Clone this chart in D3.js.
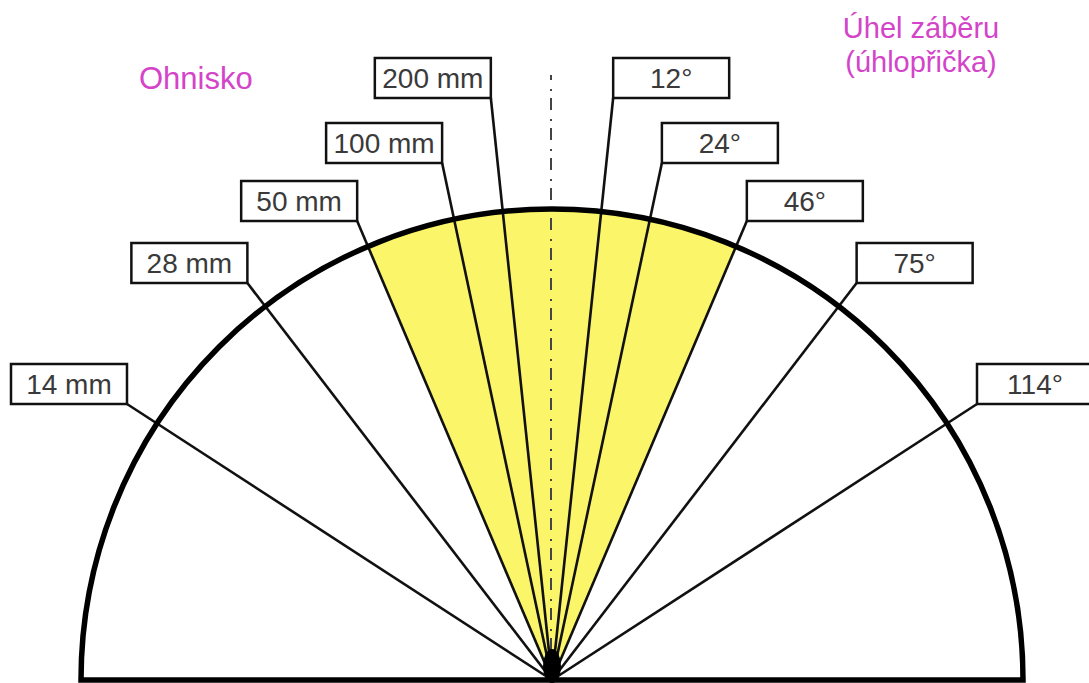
<!DOCTYPE html>
<html>
<head>
<meta charset="utf-8">
<script src="https://cdn.jsdelivr.net/npm/d3@7"></script>
<style>
  body { margin: 0; background: #fff; }
  svg { display: block; font-family: "Liberation Sans", Arial, sans-serif; }
</style>
</head>
<body>
<div id="chart"></div>
<script>
// data: focal lengths (left labels) and matching diagonal angle of view (right labels)
var focalLengths = ['14 mm', '28 mm', '50 mm', '100 mm', '200 mm'];
var viewAngles = [114, 75, 46, 24, 12];
var highlightAngle = 46; // yellow wedge
var leftTitle = 'Ohnisko';
var rightTitle = ['Úhel záběru', '(úhlopřička)'];

// layout
var width = 1089, height = 683;
var cx = 552, cy = 680, radius = 471;
var rowY = [404, 283, 221, 163, 98]; // bottom edge of the label boxes, per row
var boxW = 116, boxH = 40;

var svg = d3.select('#chart')
  .append('svg')
  .attr('width', width)
  .attr('height', height);

svg.append('rect').attr('width', width).attr('height', height).attr('fill', '#fff');

// degrees -> radians, 0 = straight up
var ang = d3.scaleLinear().domain([-180, 180]).range([-Math.PI, Math.PI]);

var g = svg.append('g').attr('transform', 'translate(' + cx + ',' + cy + ')');

// highlighted wedge
g.append('path')
  .attr('d', d3.arc()({
    innerRadius: 0, outerRadius: radius,
    startAngle: ang(-highlightAngle / 2), endAngle: ang(highlightAngle / 2)
  }))
  .attr('fill', '#fbf56a');

// dash-dot axis
g.append('line')
  .attr('x1', -1).attr('x2', -1)
  .attr('y1', 0).attr('y2', 75 - cy)
  .attr('stroke', '#444')
  .attr('stroke-width', 2)
  .attr('stroke-dasharray', '12 7 2 9');

// one entry per row: line on the left (-) and right (+) side
var rows = viewAngles.map(function(a, i) {
  var half = ang(a / 2);
  var dy = rowY[i] - cy;               // negative
  var dx = -dy * Math.tan(half);
  return { focal: focalLengths[i], angle: a, dx: dx, dy: dy };
});

function endPoints(side) {
  return rows.map(function(d) { return { d: d, x: side * d.dx, y: d.dy }; });
}

// radial lines
[-1, 1].forEach(function(side) {
  g.selectAll('.ray' + side)
    .data(endPoints(side))
    .enter()
    .append('line')
      .attr('x1', 0).attr('y1', 0)
      .attr('x2', function(p) { return p.x; })
      .attr('y2', function(p) { return p.y; })
      .attr('stroke', '#111')
      .attr('stroke-width', 2.6);
});

// semicircle outline with base line
g.append('path')
  .attr('d', d3.arc()({
    innerRadius: 0, outerRadius: radius,
    startAngle: ang(-90), endAngle: ang(90)
  }))
  .attr('fill', 'none')
  .attr('stroke', '#000')
  .attr('stroke-width', 5.5)
  .attr('stroke-linejoin', 'miter');

// blob where the rays meet
g.append('ellipse').attr('rx', 9).attr('ry', 17).attr('cy', -14).attr('fill', '#000');

// label boxes
[-1, 1].forEach(function(side) {
  var lbl = g.selectAll('.lbl' + side)
    .data(endPoints(side))
    .enter()
    .append('g')
      .attr('transform', function(p) {
        var x0 = side < 0 ? p.x - boxW : p.x;
        return 'translate(' + x0 + ',' + (p.y - boxH) + ')';
      });

  lbl.append('rect')
    .attr('width', boxW).attr('height', boxH)
    .attr('fill', '#fff')
    .attr('stroke', '#111')
    .attr('stroke-width', 2.5);

  lbl.append('text')
    .attr('x', boxW / 2)
    .attr('y', boxH - 10)
    .attr('text-anchor', 'middle')
    .attr('font-size', 28)
    .attr('fill', '#3a3a3a')
    .text(function(p) { return side < 0 ? p.d.focal : p.d.angle + '°'; });
});

// titles
svg.append('text')
  .attr('x', 139).attr('y', 89)
  .attr('font-size', 31)
  .attr('fill', '#d444c9')
  .text(leftTitle);

svg.selectAll('.rtitle')
  .data(rightTitle)
  .enter()
  .append('text')
    .attr('x', 921)
    .attr('y', function(d, i) { return 38 + i * 34; })
    .attr('text-anchor', 'middle')
    .attr('font-size', 29)
    .attr('fill', '#d444c9')
    .text(function(d) { return d; });
</script>
</body>
</html>
